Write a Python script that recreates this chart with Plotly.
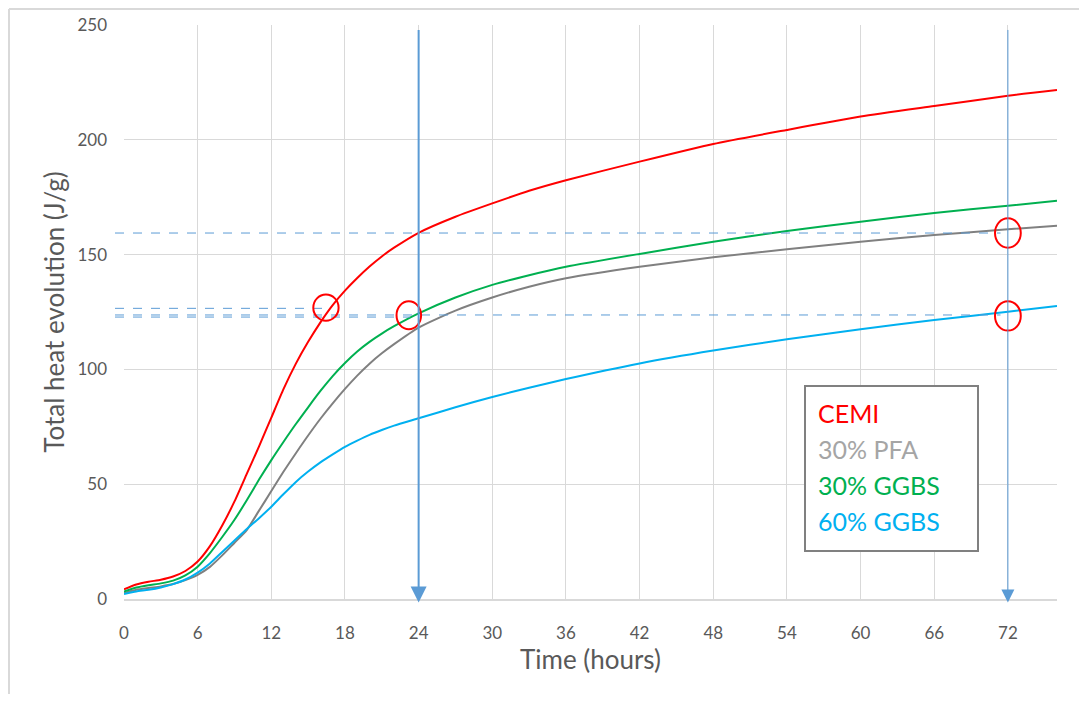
import plotly.graph_objects as go

# ---------------- data ----------------
time_h = [0, 1, 2, 3, 4, 5, 6, 7, 8, 9, 10, 11, 12, 13, 14, 15, 16, 17, 18, 19, 20,
          21, 22, 24, 27, 30, 33, 36, 42, 48, 54, 60, 66, 72, 76]

cemi = [4.2, 6.3, 7.5, 8.4, 9.8, 12.2, 16.3, 23, 32, 42.5, 54.5, 66.5, 79, 91.5, 102.5, 112,
        120.5, 128, 134.3, 139.8, 144.8, 149.2, 153, 159.5, 166.5, 172.3, 177.8, 182.4,
        190.5, 198.2, 204.3, 210.1, 214.7, 219.2, 221.7]

pfa30 = [2.5, 4, 4.8, 5.5, 6.5, 8.2, 10.5, 14, 19, 24.5, 30, 38.5, 47, 55.5, 63.5, 71.2,
         78.5, 85.2, 91.5, 97.3, 102.5, 107, 111, 118.2, 125.6, 131.3, 136, 139.7, 144.7,
         148.8, 152.3, 155.6, 158.5, 161, 162.6]

ggbs30 = [3.2, 5, 6, 6.8, 8, 10.3, 14.1, 20, 27, 34.5, 43, 52, 60.5, 68.5, 76.2, 83.5,
          90.6, 97.1, 102.8, 107.8, 112, 115.6, 118.8, 124.4, 131.3, 136.8, 141, 144.7,
          150.3, 155.6, 160.3, 164.3, 168.1, 171.3, 173.4]

ggbs60 = [2.2, 3.3, 4, 5, 6.5, 8.5, 11.5, 15.5, 20.5, 25.5, 30.5, 35.2, 40.2, 45.7, 51,
          55.5, 59.5, 63, 66.3, 69, 71.5, 73.6, 75.5, 78.7, 83.5, 88, 92, 95.8, 102.6,
          108.2, 113.1, 117.5, 121.5, 125.1, 127.6]

series_names = ["CEMI", "30% PFA", "30% GGBS", "60% GGBS"]
series_values = [cemi, pfa30, ggbs30, ggbs60]
line_colors = ["#FF0000", "#808080", "#00B050", "#00B0F0"]
label_colors = ["#FF0000", "#A5A5A5", "#00B050", "#00B0F0"]

x_ticks = [0, 6, 12, 18, 24, 30, 36, 42, 48, 54, 60, 66, 72]
y_ticks = [0, 50, 100, 150, 200, 250]

# reference marks: (y level, x end) of dashed guides
guide_levels = [(159.4, 71.4), (126.6, 16.3), (123.7, 71.4), (122.8, 23.3)]
# circles: (x centre, y centre, half width, half height)
circle_marks = [(16.45, 126.9, 1.03, 5.7), (23.2, 123.6, 1.0, 6.1),
                (72.0, 159.4, 1.05, 6.4), (72.0, 123.3, 1.05, 6.4)]
arrow_hours = [24, 72]
arrow_widths = [2, 1]

FONT = "Lato, 'Open Sans', sans-serif"
TXT = "#595959"

fig = go.Figure()
for name, vals, col in zip(series_names, series_values, line_colors):
    fig.add_trace(go.Scatter(x=time_h, y=vals, mode="lines", name=name,
                             line=dict(color=col, width=2, shape="spline", smoothing=0.6),
                             showlegend=False))

# page body has an 8px margin: figure is drawn at screen offset (8, 8)
OFF = 8
W, H = 1071, 686
L, R, T, B = 116, 22, 17, 95
pw, ph = W - L - R, H - T - B          # 933 x 574 -> screen plot area 124..1057, 25..599


def sx(px):  # screen x pixel -> paper x
    return (px - OFF - L) / pw


def sy(py):  # screen y pixel -> paper y
    return (OFF + T + ph - py) / ph


shapes = []
# outer chart frame (top and left edges visible)
shapes.append(dict(type="line", xref="paper", yref="paper",
                   x0=sx(OFF + 1), x1=sx(OFF + W), y0=sy(OFF + 1), y1=sy(OFF + 1),
                   line=dict(color="#D9D9D9", width=2), layer="below"))
shapes.append(dict(type="line", xref="paper", yref="paper",
                   x0=sx(OFF + 1), x1=sx(OFF + 1), y0=sy(OFF + 1), y1=sy(OFF + H),
                   line=dict(color="#D9D9D9", width=2), layer="below"))
# dashed guides
for yl, xe in guide_levels:
    shapes.append(dict(type="line", xref="paper", yref="y",
                       x0=sx(115), x1=xe / 76.0, y0=yl, y1=yl,
                       line=dict(color="#5B9BD5", width=1, dash="dash")))
# circles
for cx, cy, hw, hh in circle_marks:
    shapes.append(dict(type="circle", xref="x", yref="y",
                       x0=cx - hw, x1=cx + hw, y0=cy - hh, y1=cy + hh,
                       line=dict(color="#FF0000", width=2)))
# legend box
shapes.append(dict(type="rect", xref="paper", yref="paper",
                   x0=sx(805), x1=sx(978), y0=sy(551), y1=sy(386),
                   fillcolor="white", line=dict(color="#808080", width=2)))

annotations = []
for hr, wd in zip(arrow_hours, arrow_widths):
    annotations.append(dict(x=hr, y=-1.5, ax=hr, ay=248.5, xref="x", yref="y",
                            axref="x", ayref="y", text="", showarrow=True,
                            arrowhead=2, arrowsize=1.6 if wd == 2 else 2.6,
                            arrowwidth=wd, arrowcolor="#5B9BD5"))
legend_y = [413, 449, 485, 521]
for name, col, py in zip(series_names, label_colors, legend_y):
    annotations.append(dict(x=sx(816), y=sy(py), xref="paper", yref="paper",
                            text=name, showarrow=False, xanchor="left", yanchor="middle",
                            font=dict(family=FONT, size=25, color=col)))

fig.update_layout(
    width=W, height=H,
    margin=dict(l=L, r=R, t=T, b=B, autoexpand=False),
    paper_bgcolor="white", plot_bgcolor="white",
    font=dict(family=FONT, color=TXT),
    shapes=shapes, annotations=annotations,
    xaxis=dict(range=[0, 76], tickvals=x_ticks, showgrid=True, gridcolor="#D9D9D9",
               gridwidth=1, zeroline=False, showline=True, linecolor="#D9D9D9",
               linewidth=2, ticks="", ticklabelstandoff=18, automargin=False,
               tickfont=dict(family=FONT, size=17, color=TXT),
               title=dict(text="Time (hours)", font=dict(family=FONT, size=26, color=TXT),
                          standoff=8)),
    yaxis=dict(range=[0, 250], tickvals=y_ticks, showgrid=True, gridcolor="#D9D9D9",
               gridwidth=1, zeroline=False, showline=False, ticks="",
               ticklabelstandoff=16, automargin=False,
               tickfont=dict(family=FONT, size=17, color=TXT),
               title=dict(text="Total heat evolution (J/g)",
                          font=dict(family=FONT, size=26, color=TXT), standoff=5)),
)

fig.write_html("out.html")
